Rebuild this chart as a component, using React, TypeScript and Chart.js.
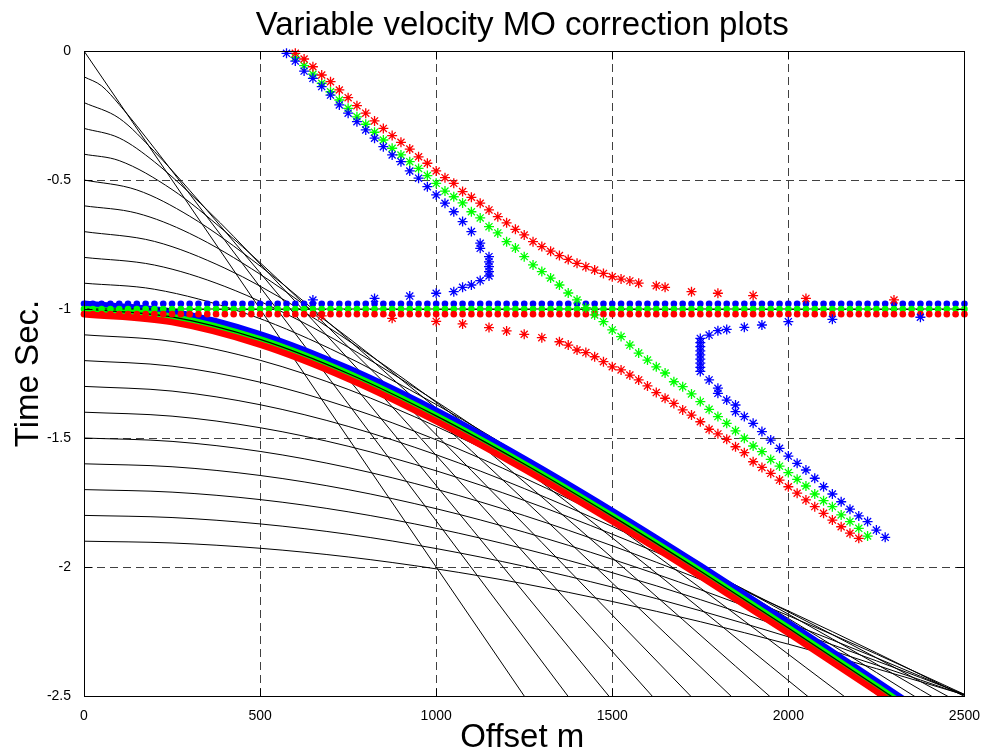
import React, { useEffect, useRef } from "react";
import { Chart, registerables } from "chart.js";

Chart.register(...registerables);

const titleText = "Variable velocity MO correction plots";
const xLabelText = "Offset m";
const yLabelText = "Time Sec.";
const xTickValues = [0, 500, 1000, 1500, 2000, 2500];
const xTickLabels = ["0", "500", "1000", "1500", "2000", "2500"];
const yTickValues = [0, -0.5, -1, -1.5, -2, -2.5];
const yTickLabels = ["0", "-0.5", "-1", "-1.5", "-2", "-2.5"];

// black reflection events: [offset m, time s]
const ev00 = [[0, 0], [500, 1.0], [1000, 2.0], [1300, 2.6]];
const ev01 = [[0, 0.1], [50, 0.1351], [100, 0.2075], [200, 0.3771], [400, 0.7341], [700, 1.2766], [1000, 1.8209], [1400, 2.5474]];
const ev02 = [[0, 0.2], [100, 0.2607], [200, 0.3897], [300, 0.5401], [500, 0.8597], [800, 1.3527], [1100, 1.8503], [1500, 2.5163]];
const ev03 = [[0, 0.3], [100, 0.3371], [200, 0.4297], [350, 0.6164], [500, 0.8257], [800, 1.2668], [1200, 1.8704], [1650, 2.5561]];
const ev04 = [[0, 0.4], [100, 0.4249], [250, 0.5369], [400, 0.6989], [600, 0.9481], [900, 1.35], [1300, 1.905], [1750, 2.5389]];
const ev05 = [[0, 0.5], [150, 0.5385], [300, 0.6403], [500, 0.8333], [750, 1.118], [1000, 1.424], [1400, 1.9325], [1900, 2.5822]];
const ev06 = [[0, 0.6], [150, 0.6285], [300, 0.7071], [500, 0.8653], [750, 1.1111], [1000, 1.3838], [1400, 1.8459], [2000, 2.5649]];
const ev07 = [[0, 0.7], [200, 0.738], [400, 0.8417], [600, 0.9906], [850, 1.2149], [1100, 1.4633], [1500, 1.887], [2100, 2.5512]];
const ev08 = [[0, 0.8], [200, 0.8296], [400, 0.9126], [650, 1.072], [900, 1.2712], [1200, 1.5411], [1600, 1.9299], [2200, 2.544]];
const ev09 = [[0, 0.9], [200, 0.9234], [450, 1.013], [700, 1.1545], [1000, 1.3701], [1300, 1.6167], [1700, 1.9734], [2300, 2.5407]];
const ev10 = [[0, 1.0], [250, 1.0308], [500, 1.118], [750, 1.25], [1000, 1.4142], [1250, 1.6008], [1500, 1.8028], [1750, 2.0156], [2000, 2.2361], [2250, 2.4622], [2400, 2.6]];
const ev11 = [[0, 1.1], [250, 1.1255], [500, 1.1987], [750, 1.3116], [1000, 1.455], [1250, 1.6209], [1500, 1.803], [1750, 1.9969], [2000, 2.1996], [2250, 2.4087], [2500, 2.6228]];
const ev12 = [[0, 1.2], [250, 1.2215], [500, 1.2837], [750, 1.3811], [1000, 1.507], [1250, 1.6548], [1500, 1.8193], [1750, 1.9962], [2000, 2.1827], [2250, 2.3763], [2500, 2.5755]];
const ev13 = [[0, 1.3], [250, 1.3181], [500, 1.371], [750, 1.4549], [1000, 1.5649], [1250, 1.6958], [1500, 1.8432], [1750, 2.0035], [2000, 2.1738], [2250, 2.3519], [2500, 2.5362]];
const ev14 = [[0, 1.4], [250, 1.4153], [500, 1.4601], [750, 1.5319], [1000, 1.6272], [1250, 1.7419], [1500, 1.8727], [1750, 2.0164], [2000, 2.1703], [2250, 2.3325], [2500, 2.5015]];
const ev15 = [[0, 1.5], [250, 1.5132], [500, 1.552], [750, 1.6147], [1000, 1.6985], [1250, 1.8006], [1500, 1.9179], [1750, 2.048], [2000, 2.1885], [2250, 2.3375], [2500, 2.4936]];
const ev16 = [[0, 1.6], [250, 1.6114], [500, 1.6452], [750, 1.7001], [1000, 1.774], [1250, 1.8648], [1500, 1.97], [1750, 2.0877], [2000, 2.2156], [2250, 2.3521], [2500, 2.496]];
const ev17 = [[0, 1.7], [250, 1.7098], [500, 1.7387], [750, 1.786], [1000, 1.8501], [1250, 1.9294], [1500, 2.0221], [1750, 2.1264], [2000, 2.2408], [2250, 2.3637], [2500, 2.494]];
const ev18 = [[0, 1.8], [250, 1.8083], [500, 1.833], [750, 1.8733], [1000, 1.9285], [1250, 1.9971], [1500, 2.0779], [1750, 2.1695], [2000, 2.2706], [2250, 2.38], [2500, 2.4966]];
const ev19 = [[0, 1.9], [250, 1.9069], [500, 1.9274], [750, 1.961], [1000, 2.0072], [1250, 2.0651], [1500, 2.1337], [1750, 2.212], [2000, 2.2991], [2250, 2.3939], [2500, 2.4956]];

// thick coloured event (t0 = 1 s) copies
const blueBand = [[0, 0.98], [250, 1.0108], [500, 1.098], [750, 1.23], [1000, 1.3942], [1250, 1.5808], [1500, 1.7828], [1750, 1.9956], [2000, 2.2161], [2250, 2.4422], [2400, 2.58]];
const greenBand = [[0, 1.0], [250, 1.0308], [500, 1.118], [750, 1.25], [1000, 1.4142], [1250, 1.6008], [1500, 1.8028], [1750, 2.0156], [2000, 2.2361], [2250, 2.4622], [2400, 2.6]];
const redBand = [[0, 1.02], [250, 1.0508], [500, 1.138], [750, 1.27], [1000, 1.4342], [1250, 1.6208], [1500, 1.8228], [1750, 2.0356], [2000, 2.2561], [2250, 2.4822], [2400, 2.62]];

// corrected (flattened) event rows
const dotOffsets = [0, 25, 50, 75, 100, 125, 150, 175, 200, 225, 250, 275, 300, 325, 350, 375, 400, 425, 450, 475, 500, 525, 550, 575, 600, 625, 650, 675, 700, 725, 750, 775, 800, 825, 850, 875, 900, 925, 950, 975, 1000, 1025, 1050, 1075, 1100, 1125, 1150, 1175, 1200, 1225, 1250, 1275, 1300, 1325, 1350, 1375, 1400, 1425, 1450, 1475, 1500, 1525, 1550, 1575, 1600, 1625, 1650, 1675, 1700, 1725, 1750, 1775, 1800, 1825, 1850, 1875, 1900, 1925, 1950, 1975, 2000, 2025, 2050, 2075, 2100, 2125, 2150, 2175, 2200, 2225, 2250, 2275, 2300, 2325, 2350, 2375, 2400, 2425, 2450, 2475, 2500];
const blueRowTime = 0.98;
const greenRowTime = 1.0;
const redRowTime = 1.02;
const blackFlat = [[0, 1.0], [2500, 1.0]];

// asterisk series: [offset m, time s]
const greenStar = [[600, 0.025], [625, 0.057], [650, 0.09], [675, 0.125], [700, 0.158], [725, 0.19], [750, 0.222], [775, 0.255], [800, 0.284], [825, 0.315], [850, 0.345], [875, 0.377], [900, 0.403], [925, 0.429], [950, 0.455], [975, 0.483], [1000, 0.513], [1025, 0.543], [1050, 0.565], [1075, 0.589], [1100, 0.623], [1125, 0.647], [1150, 0.681], [1175, 0.705], [1200, 0.739], [1225, 0.764], [1250, 0.797], [1275, 0.829], [1300, 0.855], [1325, 0.88], [1350, 0.907], [1375, 0.938], [1400, 0.965], [1425, 0.995], [1450, 1.023], [1475, 1.049], [1500, 1.081], [1525, 1.107], [1550, 1.14], [1575, 1.171], [1600, 1.198], [1625, 1.224], [1650, 1.248], [1675, 1.282], [1700, 1.301], [1725, 1.329], [1750, 1.359], [1775, 1.389], [1800, 1.417], [1825, 1.443], [1850, 1.472], [1875, 1.501], [1900, 1.531], [1925, 1.553], [1950, 1.583], [1975, 1.609], [2000, 1.634], [2025, 1.66], [2050, 1.686], [2075, 1.717], [2100, 1.743], [2125, 1.766], [2150, 1.798], [2175, 1.824], [2200, 1.85], [2225, 1.88]];
const redStarUpper = [[600, 0.009], [625, 0.031], [650, 0.061], [675, 0.093], [700, 0.119], [725, 0.151], [750, 0.181], [775, 0.212], [800, 0.241], [825, 0.271], [850, 0.3], [875, 0.328], [900, 0.354], [925, 0.38], [950, 0.41], [975, 0.435], [1000, 0.465], [1025, 0.491], [1050, 0.513], [1075, 0.545], [1100, 0.567], [1125, 0.59], [1150, 0.616], [1175, 0.642], [1200, 0.666], [1225, 0.691], [1250, 0.713], [1275, 0.739], [1300, 0.758], [1325, 0.776], [1350, 0.793], [1375, 0.808], [1400, 0.823], [1425, 0.836], [1450, 0.849], [1475, 0.862], [1500, 0.875], [1525, 0.884], [1550, 0.891], [1575, 0.9], [1625, 0.91], [1650, 0.916], [1725, 0.933], [1800, 0.939], [1900, 0.948], [2050, 0.959], [2300, 0.965]];
const redStarLower = [[675, 1.027], [875, 1.036], [1000, 1.048], [1075, 1.058], [1150, 1.072], [1200, 1.085], [1250, 1.098], [1300, 1.111], [1350, 1.127], [1375, 1.14], [1400, 1.159], [1425, 1.169], [1450, 1.185], [1475, 1.204], [1500, 1.224], [1525, 1.236], [1550, 1.256], [1575, 1.275], [1600, 1.298], [1625, 1.324], [1650, 1.346], [1675, 1.366], [1700, 1.391], [1725, 1.411], [1750, 1.437], [1775, 1.466], [1800, 1.484], [1825, 1.505], [1850, 1.534], [1875, 1.557], [1900, 1.592], [1925, 1.614], [1950, 1.637], [1975, 1.663], [2000, 1.689], [2025, 1.714], [2050, 1.74], [2075, 1.766], [2100, 1.792], [2125, 1.818], [2150, 1.844], [2175, 1.869], [2200, 1.889]];
const blueStarUpper = [[575, 0.009], [600, 0.039], [625, 0.078], [650, 0.106], [675, 0.138], [700, 0.171], [725, 0.209], [750, 0.241], [775, 0.274], [800, 0.306], [825, 0.338], [850, 0.371], [875, 0.403], [900, 0.429], [925, 0.465], [950, 0.493], [975, 0.526], [1000, 0.558], [1025, 0.59], [1050, 0.623], [1075, 0.661], [1100, 0.7], [1125, 0.745], [1125, 0.765], [1150, 0.797], [1150, 0.817], [1150, 0.836], [1150, 0.855], [1150, 0.872], [1125, 0.89], [1100, 0.907], [1075, 0.916], [1050, 0.933], [1000, 0.939], [925, 0.95], [825, 0.959], [650, 0.965]];
const blueStarLower = [[2375, 1.032], [2125, 1.04], [2000, 1.049], [1925, 1.062], [1875, 1.071], [1825, 1.079], [1800, 1.084], [1775, 1.101], [1750, 1.114], [1750, 1.13], [1750, 1.146], [1750, 1.162], [1750, 1.178], [1750, 1.194], [1750, 1.21], [1750, 1.226], [1750, 1.242], [1775, 1.275], [1800, 1.307], [1800, 1.327], [1825, 1.353], [1850, 1.372], [1850, 1.398], [1875, 1.417], [1900, 1.443], [1925, 1.475], [1950, 1.508], [1975, 1.54], [2000, 1.57], [2025, 1.598], [2050, 1.624], [2075, 1.656], [2100, 1.689], [2125, 1.717], [2150, 1.747], [2175, 1.776], [2200, 1.802], [2225, 1.824], [2250, 1.857], [2275, 1.885]];

const blackEvents = [ev00, ev01, ev02, ev03, ev04, ev05, ev06, ev07, ev08, ev09, ev11, ev12, ev13, ev14, ev15, ev16, ev17, ev18, ev19];

const FONT = '"Liberation Sans", Arial, Helvetica, sans-serif';

const framePlugin = {
  id: "matlabFrame",
  beforeDatasetsDraw(chart: any) {
    const { ctx, chartArea: a, scales } = chart;
    const xs = scales.x;
    const ys = scales.y;
    ctx.save();
    ctx.strokeStyle = "rgba(0,0,0,0.75)";
    ctx.lineWidth = 1;
    ctx.setLineDash([8, 5]);
    xTickValues.forEach((v) => {
      if (v <= 0 || v >= 2500) return;
      const px = Math.round(xs.getPixelForValue(v)) + 0.5;
      ctx.beginPath();
      ctx.moveTo(px, a.top);
      ctx.lineTo(px, a.bottom);
      ctx.stroke();
    });
    yTickValues.forEach((v) => {
      if (v >= 0 || v <= -2.5) return;
      const py = Math.round(ys.getPixelForValue(v)) + 0.5;
      ctx.beginPath();
      ctx.moveTo(a.left, py);
      ctx.lineTo(a.right, py);
      ctx.stroke();
    });
    ctx.restore();
  },
  afterDatasetsDraw(chart: any) {
    const { ctx, chartArea: a, scales } = chart;
    const xs = scales.x;
    const ys = scales.y;
    ctx.save();
    ctx.strokeStyle = "#000";
    ctx.lineWidth = 1;
    ctx.setLineDash([]);
    const L = Math.round(a.left) + 0.5;
    const R = Math.round(a.right) + 0.5;
    const T = Math.round(a.top) + 0.5;
    const B = Math.round(a.bottom) + 0.5;
    ctx.strokeRect(L, T, R - L, B - T);
    const tl = 8;
    xTickValues.forEach((v) => {
      const px = Math.round(xs.getPixelForValue(v)) + 0.5;
      ctx.beginPath();
      ctx.moveTo(px, B);
      ctx.lineTo(px, B - tl);
      ctx.moveTo(px, T);
      ctx.lineTo(px, T + tl);
      ctx.stroke();
    });
    yTickValues.forEach((v) => {
      const py = Math.round(ys.getPixelForValue(v)) + 0.5;
      ctx.beginPath();
      ctx.moveTo(L, py);
      ctx.lineTo(L + tl, py);
      ctx.moveTo(R, py);
      ctx.lineTo(R - tl, py);
      ctx.stroke();
    });
    ctx.restore();
  },
  afterDraw(chart: any) {
    const { ctx, chartArea: a } = chart;
    ctx.save();
    ctx.fillStyle = "#000";
    ctx.textAlign = "center";
    ctx.textBaseline = "alphabetic";
    ctx.font = `33px ${FONT}`;
    const cx = (a.left + a.right) / 2;
    ctx.fillText(titleText, cx - 2, 35);
    ctx.fillText(xLabelText, cx - 2, 747);
    ctx.translate(38, (a.top + a.bottom) / 2);
    ctx.rotate(-Math.PI / 2);
    ctx.fillText(yLabelText, 0, 0);
    ctx.restore();
  },
};

export default function App() {
  const ref = useRef<HTMLCanvasElement>(null);
  useEffect(() => {
    if (!ref.current) return;
    const pts = (a: number[][]) => a.map(([x, t]) => ({ x, y: -t }));
    const lineDs = (data: number[][], color: string, width: number, order: number) => ({
      data: pts(data),
      showLine: true,
      borderColor: color,
      backgroundColor: color,
      borderWidth: width,
      pointRadius: 0,
      pointHoverRadius: 0,
      cubicInterpolationMode: "monotone",
      fill: false,
      order,
      clip: 0,
    });
    const dotDs = (time: number, color: string, order: number) => ({
      data: dotOffsets.map((x) => ({ x, y: -time })),
      showLine: false,
      pointStyle: "circle",
      pointRadius: 3.3,
      pointBackgroundColor: color,
      pointBorderColor: color,
      pointBorderWidth: 0,
      order,
      clip: false,
    });
    const starDs = (data: number[][], color: string, order: number) => ({
      data: pts(data),
      showLine: false,
      pointStyle: "star",
      pointRadius: 5,
      pointBackgroundColor: color,
      pointBorderColor: color,
      pointBorderWidth: 1.3,
      order,
      clip: false,
    });

    const datasets: any[] = [];
    blackEvents.forEach((ev) => datasets.push(lineDs(ev, "#000000", 1, 20)));
    datasets.push(lineDs(blueBand, "#0000ff", 6.5, 19));
    datasets.push(lineDs(greenBand, "#00ff00", 6.5, 18));
    datasets.push(lineDs(redBand, "#ff0000", 6.5, 17));
    datasets.push(lineDs(ev10, "#000000", 1.2, 16));
    datasets.push({ ...lineDs(blackFlat, "#000000", 1, 15), cubicInterpolationMode: "default" });
    datasets.push(dotDs(blueRowTime, "#0000ff", 14));
    datasets.push(dotDs(greenRowTime, "#00ff00", 13));
    datasets.push(dotDs(redRowTime, "#ff0000", 12));
    datasets.push(starDs(greenStar, "#00ff00", 3));
    datasets.push(starDs(redStarUpper, "#ff0000", 2));
    datasets.push(starDs(redStarLower, "#ff0000", 2));
    datasets.push(starDs(blueStarUpper, "#0000ff", 1));
    datasets.push(starDs(blueStarLower, "#0000ff", 1));

    const chart = new Chart(ref.current, {
      type: "scatter",
      data: { datasets },
      plugins: [framePlugin],
      options: {
        responsive: false,
        animation: false,
        events: [],
        layout: { padding: { left: 0, right: 19, top: 51, bottom: 0 } },
        plugins: { legend: { display: false }, tooltip: { enabled: false }, title: { display: false } },
        scales: {
          x: {
            type: "linear",
            min: 0,
            max: 2500,
            grid: { display: false },
            border: { display: false },
            afterFit: (s: any) => {
              s.height = 58;
            },
            afterBuildTicks: (s: any) => {
              s.ticks = xTickValues.map((v) => ({ value: v }));
            },
            ticks: {
              autoSkip: false,
              maxRotation: 0,
              padding: 4,
              color: "#000",
              font: { family: FONT, size: 14 },
              callback: (v: any) => {
                const i = xTickValues.indexOf(Number(v));
                return i >= 0 ? xTickLabels[i] : "";
              },
            },
          },
          y: {
            type: "linear",
            min: -2.5,
            max: 0,
            grid: { display: false },
            border: { display: false },
            afterFit: (s: any) => {
              s.width = 84;
            },
            afterBuildTicks: (s: any) => {
              s.ticks = yTickValues.map((v) => ({ value: v }));
            },
            ticks: {
              autoSkip: false,
              padding: 5,
              color: "#000",
              font: { family: FONT, size: 14 },
              callback: (v: any) => {
                const i = yTickValues.findIndex((t) => Math.abs(t - Number(v)) < 1e-9);
                return i >= 0 ? yTickLabels[i] : "";
              },
            },
          },
        },
      } as any,
    });
    return () => chart.destroy();
  }, []);

  return (
    <div style={{ position: "fixed", left: 0, top: 0, width: 984, height: 754, background: "#fff" }}>
      <canvas ref={ref} width={984} height={754} style={{ display: "block", width: 984, height: 754 }} />
    </div>
  );
}
